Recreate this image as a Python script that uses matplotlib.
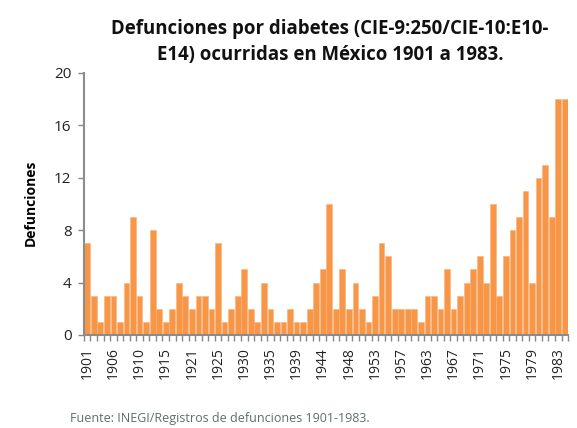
import numpy as np
import matplotlib.pyplot as plt

# deaths per year (74 categories as shown on the chart)
values = [7, 3, 1, 3, 3, 1, 4, 9, 3, 1, 8, 2, 1, 2, 4, 3, 2, 3, 3, 2,
          7, 1, 2, 3, 5, 2, 1, 4, 2, 1, 1, 2, 1, 1, 2, 4, 5, 10, 2, 5,
          2, 4, 2, 1, 3, 7, 6, 2, 2, 2, 2, 1, 3, 3, 2, 5, 2, 3, 4, 5,
          6, 4, 10, 3, 6, 8, 9, 11, 4, 12, 13, 9, 18, 18]
tick_labels = ['1901', '1906', '1910', '1915', '1921', '1925', '1930', '1935',
               '1939', '1944', '1948', '1953', '1957', '1963', '1967', '1971',
               '1975', '1979', '1983']
y_ticks = [0, 4, 8, 12, 16, 20]

plt.rcParams['font.family'] = ['Open Sans', 'DejaVu Sans']

fig = plt.figure(figsize=(5.77, 4.28), dpi=100)
ax = fig.add_axes([0.1455, 0.2173, 0.839, 0.6127])

x = np.arange(len(values))
ax.bar(x, values, width=0.88, color='#F79646', edgecolor='#FAB27A', linewidth=0.4)

ax.set_xlim(-0.5, len(values) - 0.5)
ax.set_ylim(0, 20)
ax.set_yticks(y_ticks)
ax.set_yticklabels([str(v) for v in y_ticks], fontsize=11, color='#222222')

ax.set_xticks(x[::4])
ax.set_xticklabels(tick_labels, rotation=90, fontsize=10, color='#222222')
ax.set_xticks(np.arange(len(values) + 1) - 0.5, minor=True)
ax.tick_params(axis='x', which='major', length=0, pad=9)
ax.tick_params(axis='x', which='minor', length=4, width=1, color='#888888')
ax.tick_params(axis='y', length=4, width=1, color='#888888', pad=5)

for s in ['top', 'right']:
    ax.spines[s].set_visible(False)
for s in ['left', 'bottom']:
    ax.spines[s].set_color('#8c8c8c')
    ax.spines[s].set_linewidth(1.5)

ax.set_ylabel('Defunciones', fontsize=10, fontweight='bold')
ax.yaxis.set_label_coords(-0.095, 0.505)

fig.text(0.572, 0.903, 'Defunciones por diabetes (CIE-9:250/CIE-10:E10-\nE14) ocurridas en México 1901 a 1983.',
         ha='center', va='center', fontsize=13.4, fontweight='bold', linespacing=1.4, color='#111111')
fig.text(0.122, 0.022, 'Fuente: INEGI/Registros de defunciones 1901-1983.',
         fontsize=9, color='#5f6f66', va='center')

fig.savefig('out.png', dpi=100)
